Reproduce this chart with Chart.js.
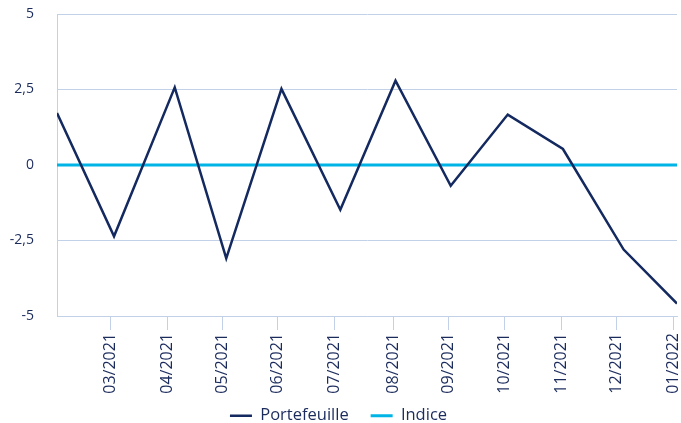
<!DOCTYPE html>
<html lang="fr">
<head>
<meta charset="utf-8">
<script src="https://cdn.jsdelivr.net/npm/chart.js@4/dist/chart.umd.min.js"></script>
<style>
  html, body { margin: 0; padding: 0; background: #fff; }
  #wrap { width: 681px; height: 423px; }
</style>
</head>
<body>
<div id="wrap"><canvas id="graphique" width="681" height="423"></canvas></div>
<script>
// jours depuis le 29/01/2021 (position de chaque point sur l'axe)
const jours = [0, 31, 64, 92, 122, 154, 184, 214, 245, 275, 308, 337];
const portefeuille = [1.72, -2.36, 2.57, -3.09, 2.52, -1.48, 2.79, -0.69, 1.67, 0.53, -2.80, -4.59];
const indice = [0, 0, 0, 0, 0, 0, 0, 0, 0, 0, 0, 0];

// graduations de l'axe des x
const joursTicks = [29, 60, 90, 120, 151, 183, 213, 243, 274, 304, 335];
const labelsTicks = ['03/2021', '04/2021', '05/2021', '06/2021', '07/2021', '08/2021',
    '09/2021', '10/2021', '11/2021', '12/2021', '01/2022'];

const couleurTexte = '#1b2b5c';
const couleurGrille = '#c3d1e8';
const police = "'Open Sans', sans-serif";

// la légende chevauche la zone de l'axe x : on évite que les labels soient coupés
const pluginLabels = {
    id: 'pluginLabels',
    afterLayout: function (chart) {
        chart.scales.x.bottom = chart.height;
    }
};

const ctx = document.getElementById('graphique').getContext('2d');

new Chart(ctx, {
    type: 'line',
    plugins: [pluginLabels],
    data: {
        datasets: [{
            label: 'Portefeuille',
            data: jours.map((j, i) => ({ x: j, y: portefeuille[i] })),
            borderColor: '#13295f',
            backgroundColor: '#13295f',
            borderWidth: 2.5,
            pointRadius: 0,
            tension: 0
        }, {
            label: 'Indice',
            data: jours.map((j, i) => ({ x: j, y: indice[i] })),
            borderColor: '#00b4e6',
            backgroundColor: '#00b4e6',
            borderWidth: 3,
            pointRadius: 0,
            tension: 0
        }]
    },
    options: {
        responsive: false,
        animation: false,
        layout: {
            padding: { top: 14, right: 4, left: 0, bottom: -11 }
        },
        plugins: {
            tooltip: { enabled: false },
            legend: {
                position: 'bottom',
                labels: {
                    usePointStyle: true,
                    pointStyle: 'line',
                    pointStyleWidth: 22,
                    boxHeight: 3,
                    padding: 22,
                    color: couleurTexte,
                    font: { family: police, size: 16.5 }
                }
            }
        },
        scales: {
            x: {
                type: 'linear',
                min: 0,
                max: 337,
                afterBuildTicks: function (axis) {
                    axis.ticks = joursTicks.map(v => ({ value: v }));
                },
                afterFit: function (axis) {
                    axis.height = 69.5;
                    axis.paddingRight = 0;
                    axis.paddingLeft = 0;
                },
                grid: {
                    drawOnChartArea: false,
                    drawTicks: true,
                    tickLength: 14,
                    color: couleurGrille
                },
                border: { color: couleurGrille },
                ticks: {
                    autoSkip: false,
                    maxRotation: 90,
                    minRotation: 90,
                    padding: 3,
                    color: couleurTexte,
                    font: { family: police, size: 16 },
                    callback: function (value, index) {
                        return labelsTicks[index];
                    }
                }
            },
            y: {
                min: -5,
                max: 5,
                afterFit: function (axis) {
                    axis.width = 57;
                    axis.paddingTop = 0;
                    axis.paddingBottom = 0;
                },
                grid: {
                    drawTicks: false,
                    color: couleurGrille
                },
                border: { color: couleurGrille },
                ticks: {
                    stepSize: 2.5,
                    padding: 23,
                    color: couleurTexte,
                    font: { family: police, size: 14 },
                    callback: function (value) {
                        return String(value).replace('.', ',');
                    }
                }
            }
        }
    }
});
</script>
</body>
</html>
